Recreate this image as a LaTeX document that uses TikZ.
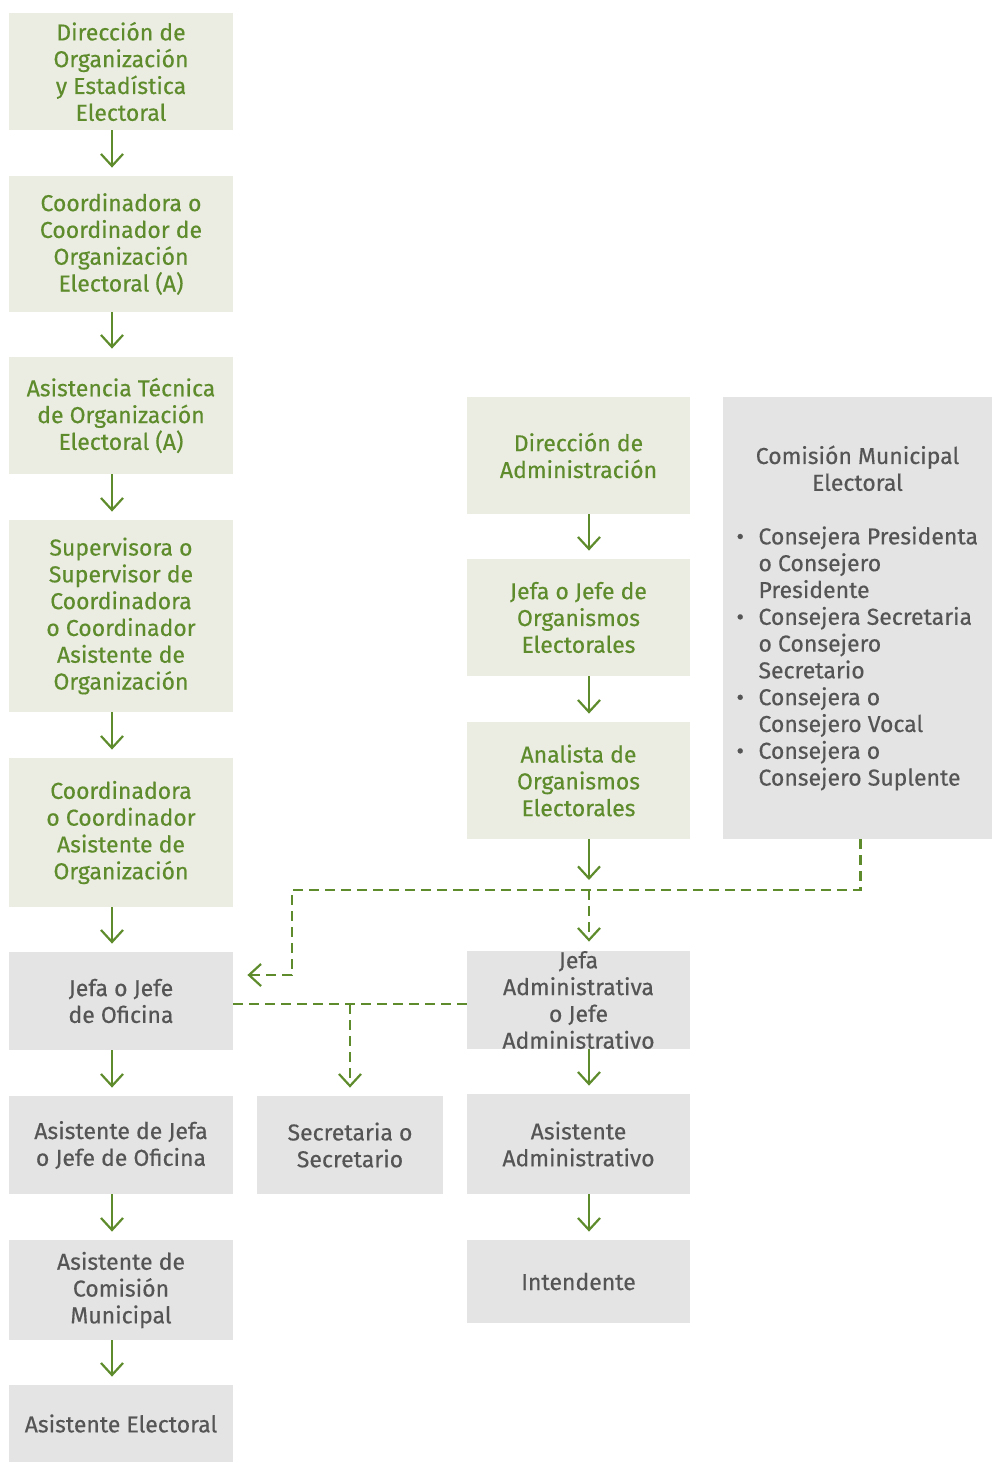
\documentclass[tikz,border=0pt]{standalone}
\usepackage{fontspec}
\setmainfont{Fira Sans}[FakeBold=0.4]
\usetikzlibrary{arrows.meta}
\definecolor{verde}{HTML}{5E8C2C}
\definecolor{fondoverde}{HTML}{EBEDE2}
\definecolor{fondogris}{HTML}{E4E4E4}
\definecolor{textogris}{HTML}{555555}
\newcommand{\cmeitem}[1]{\par\hangindent=11pt\hangafter=1\noindent\makebox[11pt][l]{\textbullet}#1\par}
\tikzset{
  box/.style={inner sep=0pt, align=center, font=\fontsize{11.5}{13.4}\selectfont},
  greenbox/.style={box, fill=fondoverde, text=verde},
  graybox/.style={box, fill=fondogris, text=textogris},
  arr/.style={draw=verde, line width=1.1pt, -{Straight Barb[length=6pt,width=11pt]}, shorten >=4pt},
  darr/.style={arr, dash pattern=on 5pt off 3pt},
  dline/.style={draw=verde, line width=1.1pt, dash pattern=on 5pt off 3pt},
}
\begin{document}
\begin{tikzpicture}[x=0.5pt,y=-0.5pt]
      \def\lx{112};
      \def\rx{589};
      \useasboundingbox (0,0) rectangle (992,1462);
      \node[greenbox, minimum width=112pt, minimum height=58.5pt] (doee) at (121,71.5) {Dirección de\\Organización\\y Estadística\\Electoral};
      \node[greenbox, minimum width=112pt, minimum height=68pt] (coor) at (121,244) {Coordinadora o\\Coordinador de\\Organización\\Electoral (A)};
      \node[greenbox, minimum width=112pt, minimum height=58.5pt] (asis) at (121,415.5) {Asistencia Técnica\\de Organización\\Electoral (A)};
      \node[greenbox, minimum width=112pt, minimum height=96pt] (supv) at (121,616) {Supervisora o\\Supervisor de\\Coordinadora\\o Coordinador\\Asistente de\\Organización};
      \node[greenbox, minimum width=112pt, minimum height=74.5pt] (caor) at (121,832.5) {Coordinadora\\o Coordinador\\Asistente de\\Organización};
      \node[graybox, minimum width=112pt, minimum height=49pt] (jofi) at (121,1001) {Jefa o Jefe\\de Oficina};
      \node[graybox, minimum width=112pt, minimum height=49pt] (ajof) at (121,1145) {Asistente de Jefa\\o Jefe de Oficina};
      \node[graybox, minimum width=112pt, minimum height=50pt] (acm) at (121,1290) {Asistente de\\Comisión\\Municipal};
      \node[graybox, minimum width=112pt, minimum height=38.5pt] (ael) at (121,1423.5) {Asistente Electoral};
      \node[graybox, minimum width=93pt, minimum height=49pt] (sec) at (350,1145) {Secretaria o\\Secretario};
      \node[greenbox, minimum width=111.5pt, minimum height=58.5pt] (dadm) at (578.5,455.5) {Dirección de\\Administración};
      \node[greenbox, minimum width=111.5pt, minimum height=58.5pt] (jorg) at (578.5,617.5) {Jefa o Jefe de\\Organismos\\Electorales};
      \node[greenbox, minimum width=111.5pt, minimum height=58.5pt] (anal) at (578.5,780.5) {Analista de\\Organismos\\Electorales};
      \node[graybox, minimum width=111.5pt, minimum height=49pt,
            label={[box, text=textogris]center:Jefa\\Administrativa\\o Jefe\\Administrativo}] (jadm) at (578.5,1000) {};
      \node[graybox, minimum width=111.5pt, minimum height=50pt] (aadm) at (578.5,1144) {Asistente\\Administrativo};
      \node[graybox, minimum width=111.5pt, minimum height=41.5pt] (inte) at (578.5,1281.5) {Intendente};
      \node[graybox, minimum width=134.5pt, minimum height=221pt, text width=121pt, align=none] (cme) at (857.5,618) {%
        {\centering Comisión Municipal\\Electoral\par}\vspace{13.4pt}\raggedright
        \cmeitem{Consejera Presidenta\newline o Consejero\newline Presidente}%
        \cmeitem{Consejera Secretaria\newline o Consejero\newline Secretario}%
        \cmeitem{Consejera o\newline Consejero Vocal}%
        \cmeitem{Consejera o\newline Consejero Suplente}};
      \coordinate (bend) at (292,890);
      \coordinate (split) at (\rx,890);
      \coordinate (link) at ([yshift=-1.5pt]jofi.east);
      \draw[arr] (doee.south -| \lx,0) -- (coor.north -| \lx,0);
      \draw[arr] (coor.south -| \lx,0) -- (asis.north -| \lx,0);
      \draw[arr] (asis.south -| \lx,0) -- (supv.north -| \lx,0);
      \draw[arr] (supv.south -| \lx,0) -- (caor.north -| \lx,0);
      \draw[arr] (caor.south -| \lx,0) -- (jofi.north -| \lx,0);
      \draw[arr] (jofi.south -| \lx,0) -- (ajof.north -| \lx,0);
      \draw[arr] (ajof.south -| \lx,0) -- (acm.north -| \lx,0);
      \draw[arr] (acm.south -| \lx,0) -- (ael.north -| \lx,0);
      \draw[arr] (dadm.south -| \rx,0) -- (jorg.north -| \rx,0);
      \draw[arr] (jorg.south -| \rx,0) -- (anal.north -| \rx,0);
      \draw[arr, shorten >=5pt] (anal.south -| \rx,0) -- (split);
      \draw[arr] (jadm.south -| \rx,0) -- (aadm.north -| \rx,0);
      \draw[arr] (aadm.south -| \rx,0) -- (inte.north -| \rx,0);
      \draw[darr, shorten >=7pt] ([xshift=1.5pt]cme.south) |- (bend) |- ([yshift=13pt]jofi.east);
      \draw[darr, shorten >=4.5pt] (split) -- (jadm.north -| \rx,0);
      \draw[dline] (link) -- (jadm.west |- link);
      \draw[darr] (sec.north |- link) -- (sec.north);
\end{tikzpicture}
\end{document}
